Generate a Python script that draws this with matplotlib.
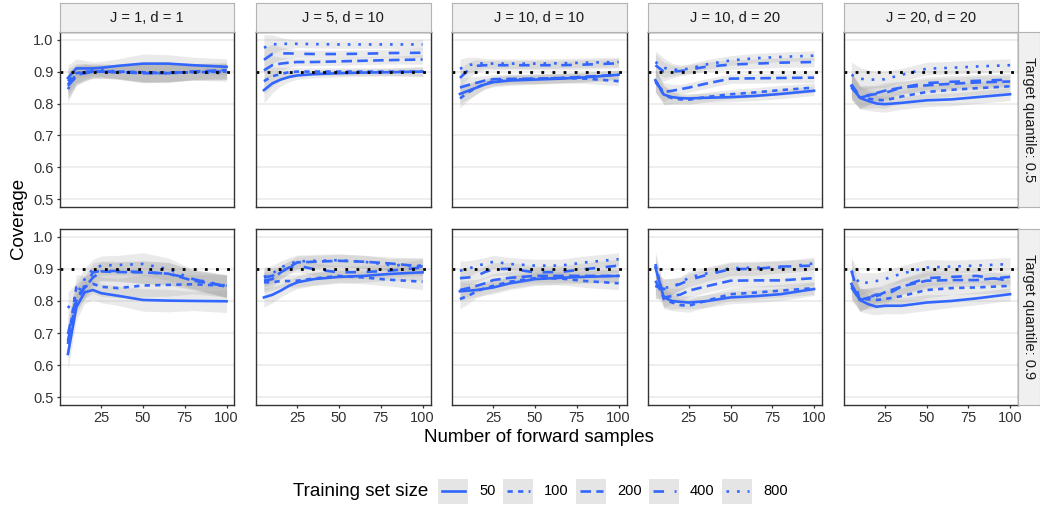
import matplotlib
matplotlib.use("Agg")
import matplotlib.pyplot as plt
from matplotlib.patches import Rectangle

plt.rcParams['font.family'] = ['Liberation Sans', 'DejaVu Sans']

# number of forward samples (x) and the facet labels
x_samples = [5, 10, 15, 20, 25, 35, 50, 65, 80, 100]
train_sizes = ['50', '100', '200', '400', '800']
col_labels = ['J = 1, d = 1', 'J = 5, d = 10', 'J = 10, d = 10', 'J = 10, d = 20', 'J = 20, d = 20']
row_labels = ['Target quantile: 0.5', 'Target quantile: 0.9']
target_level = 0.9

# coverage, one list per training set size (50, 100, 200, 400, 800)
q05_j1_d1 = [
    [0.880, 0.910, 0.910, 0.910, 0.912, 0.918, 0.925, 0.925, 0.920, 0.915],
    [0.870, 0.895, 0.900, 0.900, 0.900, 0.900, 0.898, 0.897, 0.898, 0.900],
    [0.860, 0.890, 0.895, 0.900, 0.900, 0.898, 0.895, 0.895, 0.900, 0.905],
    [0.855, 0.885, 0.895, 0.900, 0.900, 0.898, 0.896, 0.895, 0.900, 0.900],
    [0.845, 0.890, 0.900, 0.905, 0.905, 0.900, 0.898, 0.895, 0.898, 0.895],
]
q05_j5_d10 = [
    [0.842, 0.863, 0.875, 0.883, 0.888, 0.892, 0.895, 0.897, 0.898, 0.900],
    [0.870, 0.885, 0.893, 0.898, 0.900, 0.900, 0.900, 0.900, 0.900, 0.900],
    [0.904, 0.920, 0.925, 0.928, 0.930, 0.930, 0.932, 0.934, 0.936, 0.938],
    [0.937, 0.955, 0.957, 0.957, 0.956, 0.955, 0.955, 0.956, 0.958, 0.959],
    [0.975, 0.985, 0.987, 0.987, 0.987, 0.986, 0.985, 0.985, 0.985, 0.985],
]
q05_j10_d10 = [
    [0.830, 0.840, 0.850, 0.860, 0.867, 0.872, 0.875, 0.878, 0.882, 0.890],
    [0.816, 0.835, 0.850, 0.862, 0.870, 0.875, 0.877, 0.880, 0.878, 0.870],
    [0.850, 0.858, 0.865, 0.872, 0.876, 0.877, 0.878, 0.880, 0.884, 0.890],
    [0.880, 0.905, 0.918, 0.920, 0.920, 0.920, 0.920, 0.920, 0.922, 0.926],
    [0.909, 0.920, 0.925, 0.926, 0.925, 0.925, 0.925, 0.926, 0.928, 0.930],
]
q05_j10_d20 = [
    [0.873, 0.828, 0.820, 0.817, 0.816, 0.818, 0.820, 0.824, 0.830, 0.840],
    [0.873, 0.826, 0.817, 0.813, 0.812, 0.820, 0.829, 0.835, 0.842, 0.850],
    [0.867, 0.836, 0.840, 0.845, 0.850, 0.862, 0.878, 0.879, 0.880, 0.881],
    [0.920, 0.900, 0.900, 0.902, 0.906, 0.915, 0.922, 0.925, 0.928, 0.930],
    [0.930, 0.912, 0.906, 0.906, 0.909, 0.922, 0.935, 0.942, 0.946, 0.950],
]
q05_j20_d20 = [
    [0.855, 0.818, 0.808, 0.800, 0.798, 0.802, 0.810, 0.813, 0.820, 0.829],
    [0.850, 0.820, 0.815, 0.812, 0.810, 0.822, 0.836, 0.843, 0.848, 0.854],
    [0.855, 0.818, 0.825, 0.833, 0.840, 0.850, 0.857, 0.862, 0.866, 0.869],
    [0.860, 0.823, 0.826, 0.830, 0.833, 0.850, 0.864, 0.868, 0.871, 0.875],
    [0.890, 0.878, 0.875, 0.875, 0.876, 0.890, 0.909, 0.912, 0.916, 0.920],
]
q09_j1_d1 = [
    [0.635, 0.780, 0.827, 0.834, 0.824, 0.816, 0.803, 0.801, 0.800, 0.799],
    [0.666, 0.842, 0.844, 0.853, 0.844, 0.840, 0.848, 0.850, 0.852, 0.847],
    [0.676, 0.800, 0.842, 0.873, 0.892, 0.890, 0.889, 0.885, 0.863, 0.847],
    [0.697, 0.811, 0.842, 0.889, 0.894, 0.893, 0.890, 0.885, 0.868, 0.844],
    [0.778, 0.816, 0.868, 0.899, 0.910, 0.912, 0.915, 0.899, 0.868, 0.847],
]
q09_j5_d10 = [
    [0.811, 0.819, 0.832, 0.847, 0.858, 0.868, 0.875, 0.878, 0.884, 0.889],
    [0.858, 0.858, 0.862, 0.862, 0.863, 0.870, 0.878, 0.873, 0.866, 0.860],
    [0.863, 0.868, 0.889, 0.905, 0.920, 0.922, 0.925, 0.922, 0.917, 0.907],
    [0.873, 0.878, 0.890, 0.904, 0.910, 0.899, 0.889, 0.890, 0.894, 0.904],
    [0.875, 0.885, 0.904, 0.915, 0.923, 0.925, 0.927, 0.922, 0.912, 0.910],
]
q09_j10_d10 = [
    [0.830, 0.832, 0.834, 0.838, 0.842, 0.855, 0.868, 0.872, 0.875, 0.878],
    [0.806, 0.816, 0.830, 0.840, 0.847, 0.860, 0.871, 0.870, 0.862, 0.855],
    [0.834, 0.840, 0.847, 0.855, 0.865, 0.872, 0.878, 0.878, 0.878, 0.878],
    [0.871, 0.873, 0.878, 0.890, 0.899, 0.900, 0.889, 0.890, 0.899, 0.910],
    [0.894, 0.900, 0.910, 0.915, 0.922, 0.915, 0.910, 0.910, 0.920, 0.930],
]
q09_j10_d20 = [
    [0.904, 0.811, 0.800, 0.797, 0.795, 0.799, 0.811, 0.815, 0.821, 0.837],
    [0.915, 0.806, 0.795, 0.787, 0.785, 0.800, 0.821, 0.826, 0.832, 0.840],
    [0.863, 0.811, 0.815, 0.820, 0.832, 0.845, 0.863, 0.864, 0.864, 0.871],
    [0.847, 0.837, 0.845, 0.853, 0.865, 0.880, 0.899, 0.900, 0.907, 0.910],
    [0.847, 0.840, 0.845, 0.855, 0.873, 0.885, 0.902, 0.904, 0.904, 0.917],
]
q09_j20_d20 = [
    [0.853, 0.803, 0.790, 0.782, 0.785, 0.785, 0.795, 0.800, 0.808, 0.821],
    [0.847, 0.806, 0.805, 0.803, 0.806, 0.815, 0.834, 0.840, 0.842, 0.847],
    [0.842, 0.803, 0.810, 0.815, 0.827, 0.845, 0.863, 0.865, 0.865, 0.875],
    [0.894, 0.803, 0.810, 0.820, 0.816, 0.845, 0.871, 0.875, 0.878, 0.863],
    [0.894, 0.853, 0.858, 0.862, 0.868, 0.885, 0.904, 0.907, 0.910, 0.915],
]

# half width of the grey confidence bands, one list per panel
band_q05 = [
    [0.040, 0.030, 0.025, 0.020, 0.020, 0.022, 0.030, 0.028, 0.025, 0.025],
    [0.040, 0.030, 0.020, 0.015, 0.012, 0.012, 0.012, 0.012, 0.012, 0.015],
    [0.030, 0.025, 0.020, 0.015, 0.015, 0.015, 0.015, 0.015, 0.015, 0.015],
    [0.035, 0.030, 0.020, 0.015, 0.015, 0.015, 0.015, 0.015, 0.015, 0.015],
    [0.040, 0.035, 0.030, 0.025, 0.025, 0.020, 0.020, 0.020, 0.020, 0.020],
]
band_q09 = [
    [0.050, 0.040, 0.035, 0.030, 0.030, 0.030, 0.035, 0.035, 0.030, 0.035],
    [0.030, 0.025, 0.020, 0.020, 0.020, 0.020, 0.020, 0.020, 0.020, 0.025],
    [0.030, 0.025, 0.020, 0.020, 0.020, 0.020, 0.020, 0.020, 0.020, 0.020],
    [0.040, 0.030, 0.025, 0.020, 0.020, 0.020, 0.020, 0.020, 0.020, 0.020],
    [0.040, 0.035, 0.030, 0.025, 0.025, 0.025, 0.025, 0.020, 0.020, 0.020],
]

grid_data = [
    [q05_j1_d1, q05_j5_d10, q05_j10_d10, q05_j10_d20, q05_j20_d20],
    [q09_j1_d1, q09_j5_d10, q09_j10_d10, q09_j10_d20, q09_j20_d20],
]
grid_band = [band_q05, band_q09]

# ggplot default linetypes: solid, 22, 42, 44, 13
line_styles = ['-', (0, (2, 2)), (0, (4, 2)), (0, (4, 4)), (0, (1, 3))]
blue = '#3366FF'
lw = 1.9

W, H = 1040, 508
fig = plt.figure(figsize=(W / 100, H / 100), dpi=100)

# panel layout in pixels
col_left = [60, 256, 452, 647.5, 843.5]
col_w = 174.5
row_top = [32, 229]
row_h = [175, 176]
strip_h = 29
strip_w = 21.5


def px_box(x0, y0, w, h):
    return [x0 / W, 1 - (y0 + h) / H, w / W, h / H]


for r in range(2):
    for c in range(5):
        ax = fig.add_axes(px_box(col_left[c], row_top[r], col_w, row_h[r]))
        series = grid_data[r][c]
        band = grid_band[r][c]
        for s in range(5):
            lo = [v - b for v, b in zip(series[s], band)]
            hi = [v + b for v, b in zip(series[s], band)]
            ax.fill_between(x_samples, lo, hi, color='#999999', alpha=0.2, lw=0, zorder=2)
            ax.plot(x_samples, series[s], color=blue, lw=lw, ls=line_styles[s],
                    dash_capstyle='butt', zorder=3)
        ax.axhline(target_level, color='black', lw=2.0, ls=(0, (1, 3)), zorder=4)

        ax.set_xlim(0.25, 104.75)
        ax.set_ylim(0.476, 1.024)
        ax.set_xticks([25, 50, 75, 100])
        ax.set_yticks([0.5, 0.6, 0.7, 0.8, 0.9, 1.0])
        ax.grid(axis='y', color='#ebebeb', lw=1.2, zorder=0)
        ax.set_axisbelow(True)
        for sp in ax.spines.values():
            sp.set_color('#333333')
            sp.set_linewidth(1.0)
            sp.set_zorder(5)
        ax.tick_params(length=2.5, width=0.9, color='#333333', labelsize=10.5,
                       labelcolor='#333333', pad=2)
        if r == 0:
            ax.tick_params(axis='x', bottom=False, labelbottom=False)
        if c > 0:
            ax.tick_params(axis='y', left=False, labelleft=False)
        else:
            ax.set_yticklabels(['0.5', '0.6', '0.7', '0.8', '0.9', '1.0'])

        # strips on top and on the right
        if r == 0:
            sax = fig.add_axes(px_box(col_left[c], row_top[0] - strip_h, col_w, strip_h))
            sax.set_xticks([])
            sax.set_yticks([])
            sax.set_facecolor('#f0f0f0')
            for sp in sax.spines.values():
                sp.set_color('#b3b3b3')
                sp.set_linewidth(0.8)
            sax.text(0.5, 0.5, col_labels[c], ha='center', va='center',
                     fontsize=10.5, color='#1a1a1a', transform=sax.transAxes)
        if c == 4:
            rax = fig.add_axes(px_box(col_left[4] + col_w, row_top[r], strip_w, row_h[r]))
            rax.set_xticks([])
            rax.set_yticks([])
            rax.set_facecolor('#f0f0f0')
            for sp in rax.spines.values():
                sp.set_color('#b3b3b3')
                sp.set_linewidth(0.8)
            rax.text(0.5, 0.5, row_labels[r], ha='center', va='center', rotation=-90,
                     fontsize=10.5, color='#1a1a1a', transform=rax.transAxes)

# axis titles
fig.text(18 / W, 1 - 218 / H, 'Coverage', rotation=90, ha='center', va='center', fontsize=13.5)
fig.text(539 / W, 1 - 438 / H, 'Number of forward samples', ha='center', va='center', fontsize=13.5)

# legend drawn by hand so the keys get the grey boxes
lax = fig.add_axes([0, 0, 1, 1], facecolor='none')
lax.set_xlim(0, W)
lax.set_ylim(H, 0)
lax.axis('off')
lax.text(293, 491, 'Training set size', ha='left', va='center', fontsize=13.5)
key_x = [438, 503, 576, 649, 722]
for i, size in enumerate(train_sizes):
    kx = key_x[i]
    lax.add_patch(Rectangle((kx, 478.5), 30, 25, color='#e5e5e5', lw=0))
    lax.plot([kx + 4, kx + 27], [491, 491], color=blue, lw=lw, ls=line_styles[i],
             dash_capstyle='butt')
    lax.text(kx + 41, 491, size, ha='left', va='center', fontsize=10.5)

fig.savefig('out.png', dpi=100)
